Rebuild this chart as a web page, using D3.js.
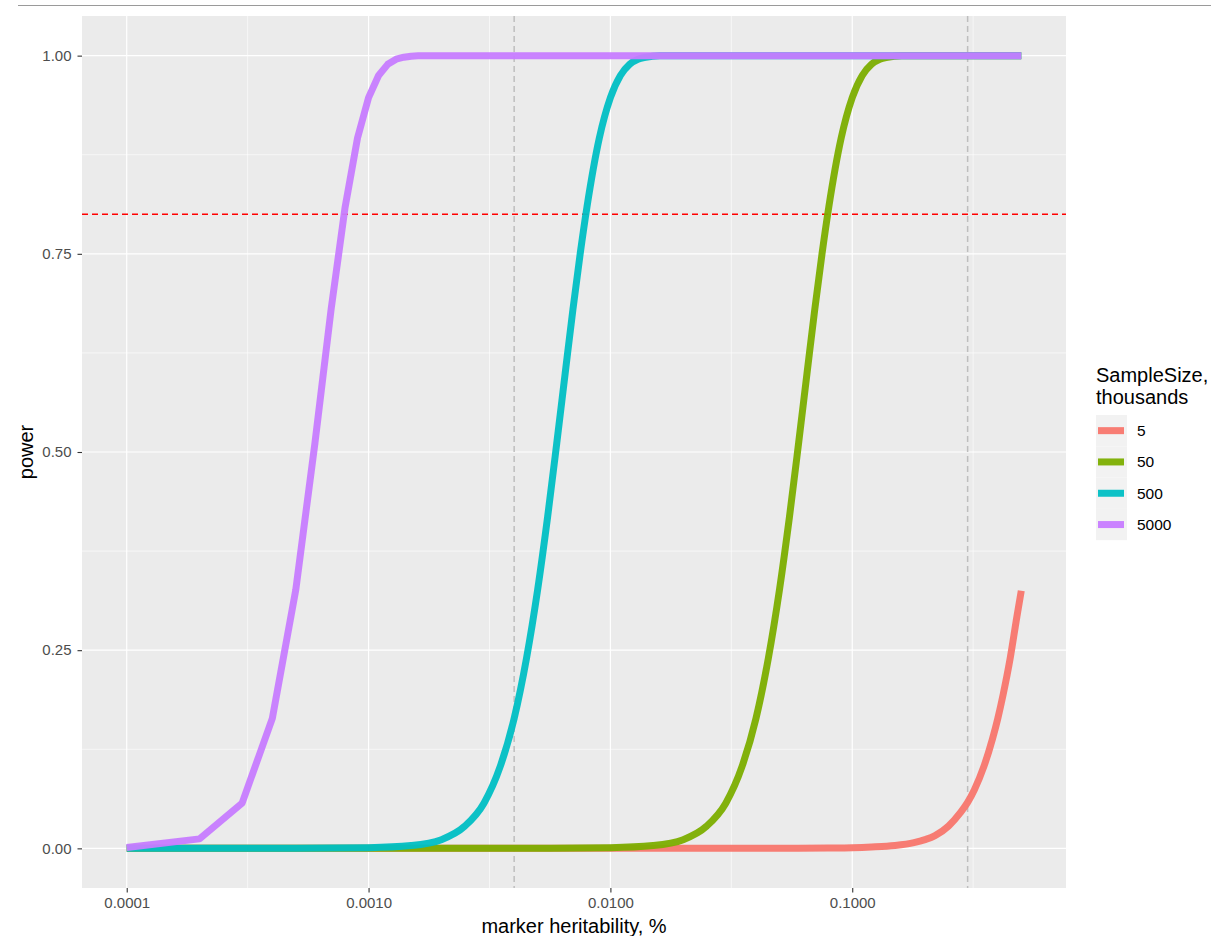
<!DOCTYPE html>
<html><head><meta charset="utf-8">
<script src="https://cdn.jsdelivr.net/npm/d3@7"></script>
<style>body{margin:0;background:#fff;}svg{display:block;font-family:"Liberation Sans",Arial,sans-serif;}</style>
</head><body>
<svg id="c" width="1211" height="936"></svg>
<script>
// ---- data ----
const seriesNames = ["5", "50", "500", "5000"];
const seriesColors = ["#F8766D", "#7CAE00", "#00BFC4", "#C77CFF"];

const x5 = [0.0001, 0.001, 0.01, 0.05, 0.08, 0.1, 0.12, 0.15, 0.18, 0.2, 0.22, 0.25, 0.28, 0.3, 0.32, 0.35, 0.38, 0.4, 0.42, 0.45, 0.48, 0.5];
const y5 = [0, 0, 0, 0.0001, 0.0004, 0.0008, 0.0017, 0.0036, 0.0072, 0.011, 0.016, 0.028, 0.045, 0.058, 0.074, 0.103, 0.138, 0.164, 0.193, 0.24, 0.293, 0.325];

const x50 = [0.0001, 0.001, 0.005, 0.01, 0.015, 0.02, 0.025, 0.03, 0.035, 0.04, 0.045, 0.05, 0.055, 0.06, 0.065, 0.07, 0.075, 0.08, 0.09, 0.1, 0.11, 0.12, 0.13, 0.14, 0.16, 0.2, 0.3, 0.5];
const y50 = [0, 0, 0, 0.0008, 0.0035, 0.011, 0.028, 0.057, 0.103, 0.164, 0.24, 0.326, 0.418, 0.511, 0.599, 0.68, 0.75, 0.809, 0.896, 0.947, 0.975, 0.989, 0.9955, 0.998, 0.9998, 1, 1, 1];

const x500 = [0.0001, 0.0005, 0.001, 0.0015, 0.002, 0.0025, 0.003, 0.0035, 0.004, 0.0045, 0.005, 0.0055, 0.006, 0.0065, 0.007, 0.0075, 0.008, 0.009, 0.01, 0.011, 0.012, 0.013, 0.014, 0.016, 0.02, 0.05, 0.5];
const y500 = [0, 0, 0.0008, 0.0035, 0.011, 0.028, 0.057, 0.103, 0.164, 0.24, 0.326, 0.418, 0.511, 0.599, 0.68, 0.75, 0.809, 0.896, 0.947, 0.975, 0.989, 0.9955, 0.998, 0.9998, 1, 1, 1];

const x5000 = [0.0001, 0.0002, 0.0003, 0.0004, 0.0005, 0.0006, 0.0007, 0.0008, 0.0009, 0.001, 0.0011, 0.0012, 0.0013, 0.0014, 0.0015, 0.0016, 0.002, 0.005, 0.05, 0.5];
const y5000 = [0.001, 0.012, 0.057, 0.164, 0.326, 0.511, 0.68, 0.809, 0.896, 0.947, 0.975, 0.989, 0.9955, 0.998, 0.9993, 0.9998, 1, 1, 1, 1];

const xTicks = [0.0001, 0.001, 0.01, 0.1];
const xTickLabels = ["0.0001", "0.0010", "0.0100", "0.1000"];
const yTicks = [0, 0.25, 0.5, 0.75, 1];
const yTickLabels = ["0.00", "0.25", "0.50", "0.75", "1.00"];
const powerThreshold = 0.8;
const vLines = [0.004, 0.3];

// ---- layout ----
const svg = d3.select("#c");
const P = {l: 82, r: 1066, t: 16, b: 888};
const lo = Math.log10(0.0001), hi = Math.log10(0.5), pad = 0.05 * (hi - lo);
const x = d3.scaleLog().domain([Math.pow(10, lo - pad), Math.pow(10, hi + pad)]).range([P.l, P.r]);
const y = d3.scaleLinear().domain([-0.05, 1.05]).range([P.b, P.t]);

// top rule
svg.append("line").attr("x1", 18).attr("x2", 1211).attr("y1", 5.5).attr("y2", 5.5).attr("stroke", "#9a9a9a").attr("stroke-width", 1);

// panel
svg.append("rect").attr("x", P.l).attr("y", P.t).attr("width", P.r - P.l).attr("height", P.b - P.t).attr("fill", "#EBEBEB");

const g = svg.append("g");
// minor grid
const xMinor = xTicks.map(t => t * Math.sqrt(10));
const yMinor = [0.125, 0.375, 0.625, 0.875];
g.selectAll(".xm").data(xMinor).join("line").attr("x1", d => x(d)).attr("x2", d => x(d)).attr("y1", P.t).attr("y2", P.b).attr("stroke", "#fff").attr("stroke-width", 0.6);
g.selectAll(".ym").data(yMinor).join("line").attr("x1", P.l).attr("x2", P.r).attr("y1", d => y(d)).attr("y2", d => y(d)).attr("stroke", "#fff").attr("stroke-width", 0.6);
// major grid
g.selectAll(".xM").data(xTicks).join("line").attr("x1", d => x(d)).attr("x2", d => x(d)).attr("y1", P.t).attr("y2", P.b).attr("stroke", "#fff").attr("stroke-width", 1.2);
g.selectAll(".yM").data(yTicks).join("line").attr("x1", P.l).attr("x2", P.r).attr("y1", d => y(d)).attr("y2", d => y(d)).attr("stroke", "#fff").attr("stroke-width", 1.2);

// reference lines
g.append("line").attr("x1", P.l).attr("x2", P.r).attr("y1", y(powerThreshold)).attr("y2", y(powerThreshold))
  .attr("stroke", "#FF0000").attr("stroke-width", 1.5).attr("stroke-dasharray", "6,4");
g.selectAll(".vl").data(vLines).join("line").attr("x1", d => x(d)).attr("x2", d => x(d)).attr("y1", P.t).attr("y2", P.b)
  .attr("stroke", "#BEBEBE").attr("stroke-width", 1.5).attr("stroke-dasharray", "6,4");

// series
const series = [
  {name: seriesNames[0], xs: x5, ys: y5, curve: d3.curveMonotoneX},
  {name: seriesNames[1], xs: x50, ys: y50, curve: d3.curveMonotoneX},
  {name: seriesNames[2], xs: x500, ys: y500, curve: d3.curveMonotoneX},
  {name: seriesNames[3], xs: x5000, ys: y5000, curve: d3.curveLinear}
];
series.forEach((s, i) => {
  const pts = s.xs.map((v, j) => [v, s.ys[j]]);
  const line = d3.line().x(d => x(d[0])).y(d => y(d[1])).curve(s.curve);
  g.append("path").attr("d", line(pts)).attr("fill", "none").attr("stroke", seriesColors[i])
    .attr("stroke-width", 7).attr("stroke-opacity", 0.95).attr("stroke-linejoin", "round");
});

// axes
const xAxis = d3.axisBottom(x).tickValues(xTicks).tickFormat((d, i) => xTickLabels[i]).tickSize(4.5).tickPadding(5);
const xa = svg.append("g").attr("transform", `translate(0,${P.b})`).call(xAxis);
const yAxis = d3.axisLeft(y).tickValues(yTicks).tickFormat((d, i) => yTickLabels[i]).tickSize(4.5).tickPadding(6);
const ya = svg.append("g").attr("transform", `translate(${P.l},0)`).call(yAxis);
[xa, ya].forEach(a => {
  a.select(".domain").remove();
  a.selectAll(".tick line").attr("stroke", "#333").attr("stroke-width", 1.1);
  a.selectAll(".tick text").attr("fill", "#4D4D4D").style("font-size", "15px").style("font-family", "Liberation Sans, Arial, sans-serif");
});

svg.append("text").attr("x", (P.l + P.r) / 2).attr("y", 933).attr("text-anchor", "middle")
  .style("font-size", "20px").attr("fill", "#000").text("marker heritability, %");
svg.append("text").attr("transform", `translate(33,${(P.t + P.b) / 2}) rotate(-90)`).attr("text-anchor", "middle")
  .style("font-size", "20px").attr("fill", "#000").text("power");

// legend
const L = svg.append("g");
L.append("text").attr("x", 1096).attr("y", 382).style("font-size", "20px").text("SampleSize,");
L.append("text").attr("x", 1096).attr("y", 403.5).style("font-size", "20px").text("thousands");
const keyH = 31.3, keyTop = 415;
seriesNames.forEach((nm, i) => {
  const ky = keyTop + i * keyH;
  L.append("rect").attr("x", 1096).attr("y", ky).attr("width", 31).attr("height", keyH).attr("fill", "#F2F2F2");
  L.append("line").attr("x1", 1098).attr("x2", 1124).attr("y1", ky + keyH / 2).attr("y2", ky + keyH / 2)
    .attr("stroke", seriesColors[i]).attr("stroke-width", 7).attr("stroke-opacity", 0.95);
  L.append("text").attr("x", 1137).attr("y", ky + keyH / 2).attr("dy", "0.35em").style("font-size", "15.5px").attr("fill", "#000").text(nm);
});
</script>
</body></html>
